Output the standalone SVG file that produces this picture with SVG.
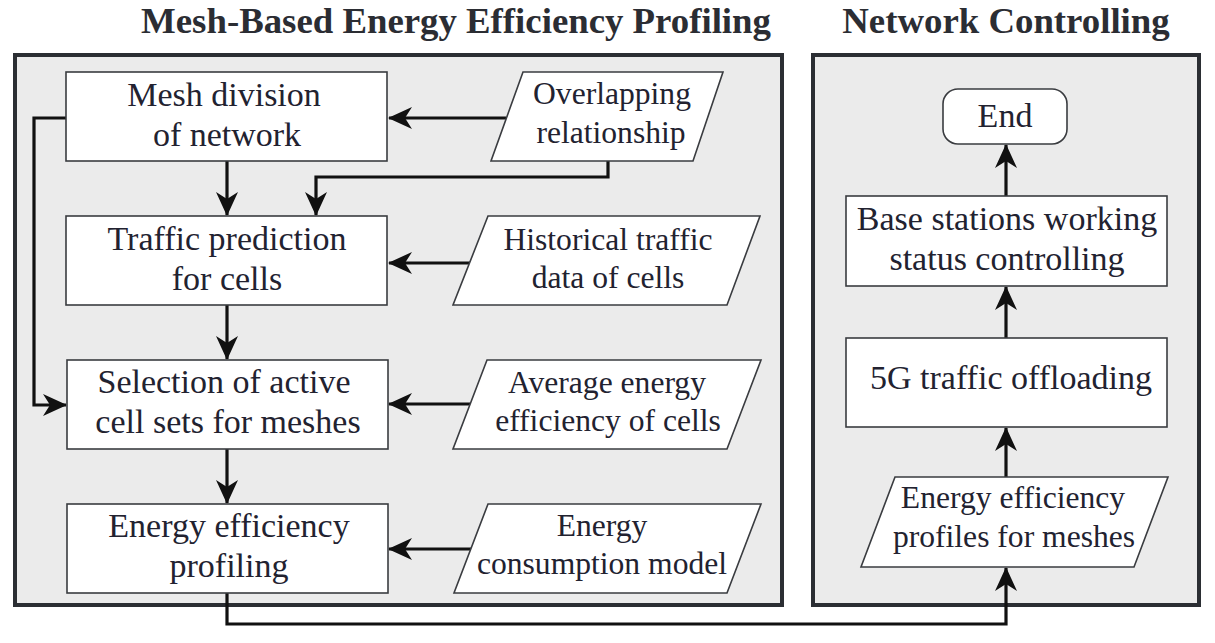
<svg xmlns="http://www.w3.org/2000/svg" width="1215" height="643" viewBox="0 0 1215 643">
<style>
.panel{fill:#ebebeb;stroke:#2b2e33;stroke-width:4}
.node{fill:#ffffff;stroke:#3a3c40;stroke-width:1.6}
.t{font-family:"Liberation Serif","Times New Roman",serif;font-size:34px;fill:#222230;text-anchor:middle}
.p{font-size:31.6px}
.title{font-family:"Liberation Serif","Times New Roman",serif;font-size:36.8px;font-weight:bold;fill:#2b2d33;text-anchor:middle}
.c{fill:none;stroke:#111111;stroke-width:3.2;stroke-linejoin:miter}
</style>
<defs>
<marker id="ah" markerUnits="userSpaceOnUse" viewBox="0 0 24 22" refX="23" refY="11" markerWidth="24" markerHeight="22" orient="auto">
<path d="M0,0 L24,11 L0,22 L7,11 Z" fill="#111111"/>
</marker>
</defs>
<rect id="panel-left" class="panel" x="15" y="55" width="767" height="550"/>
<rect id="panel-right" class="panel" x="813" y="55" width="386" height="550"/>
<text class="title" x="456" y="33">Mesh-Based Energy Efficiency Profiling</text>
<text class="title" x="1006" y="33">Network Controlling</text>
<g id="connectors">
<path class="c" d="M506,118 L389,118" marker-end="url(#ah)"/>
<path class="c" d="M608,161 L608,177 L316,177 L316,215" marker-end="url(#ah)"/>
<path class="c" d="M227,161 L227,215" marker-end="url(#ah)"/>
<path class="c" d="M66,118 L34,118 L34,405 L66,405" marker-end="url(#ah)"/>
<path class="c" d="M470,263 L389,263" marker-end="url(#ah)"/>
<path class="c" d="M227,305 L227,359" marker-end="url(#ah)"/>
<path class="c" d="M470,404 L389,404" marker-end="url(#ah)"/>
<path class="c" d="M227,449 L227,503" marker-end="url(#ah)"/>
<path class="c" d="M471,549 L389,549" marker-end="url(#ah)"/>
<path class="c" d="M227,593 L227,624 L1006,624 L1006,568" marker-end="url(#ah)"/>
<path class="c" d="M1006,477 L1006,428" marker-end="url(#ah)"/>
<path class="c" d="M1006,338 L1006,287" marker-end="url(#ah)"/>
<path class="c" d="M1006,196 L1006,145" marker-end="url(#ah)"/>
</g>
<g id="mesh-division">
<rect class="node" x="66" y="72" width="321" height="89"/>
<text class="t" x="224" y="106">Mesh division</text>
<text class="t" x="227" y="146">of network</text>
</g>
<g id="overlapping">
<polygon class="node" points="523,72 723,72 693,161 491,161"/>
<text class="t p" x="612" y="104">Overlapping</text>
<text class="t p" x="611" y="143">relationship</text>
</g>
<g id="traffic-prediction">
<rect class="node" x="66" y="216" width="321" height="89"/>
<text class="t" x="227" y="250">Traffic prediction</text>
<text class="t" x="227" y="290">for cells</text>
</g>
<g id="historical">
<polygon class="node" points="488,216 760,216 727,305 453,305"/>
<text class="t p" x="608" y="250">Historical traffic</text>
<text class="t p" x="608" y="288">data of cells</text>
</g>
<g id="selection">
<rect class="node" x="67" y="360" width="321" height="89"/>
<text class="t" x="224" y="393">Selection of active</text>
<text class="t" x="228" y="433">cell sets for meshes</text>
</g>
<g id="average">
<polygon class="node" points="487,360 761,360 727,449 453,449"/>
<text class="t p" x="607" y="393">Average energy</text>
<text class="t p" x="608" y="431">efficiency of cells</text>
</g>
<g id="profiling">
<rect class="node" x="67" y="504" width="321" height="89"/>
<text class="t" x="229" y="537">Energy efficiency</text>
<text class="t" x="229" y="577">profiling</text>
</g>
<g id="consumption">
<polygon class="node" points="488,504 761,504 727,593 454,593"/>
<text class="t p" x="602" y="536">Energy</text>
<text class="t p" x="602" y="574">consumption model</text>
</g>
<g id="end">
<rect class="node" x="943" y="89" width="124" height="55" rx="15" ry="15"/>
<text class="t" x="1005" y="127">End</text>
</g>
<g id="base-stations">
<rect class="node" x="846" y="196" width="321" height="90"/>
<text class="t" x="1007" y="230">Base stations working</text>
<text class="t" x="1007" y="270">status controlling</text>
</g>
<g id="offloading">
<rect class="node" x="846" y="338" width="321" height="89"/>
<text class="t" x="1011" y="389">5G traffic offloading</text>
</g>
<g id="profiles">
<polygon class="node" points="895,477 1168,477 1134,567 861,567"/>
<text class="t p" x="1013" y="508">Energy efficiency</text>
<text class="t p" x="1014" y="547">profiles for meshes</text>
</g>
</svg>
